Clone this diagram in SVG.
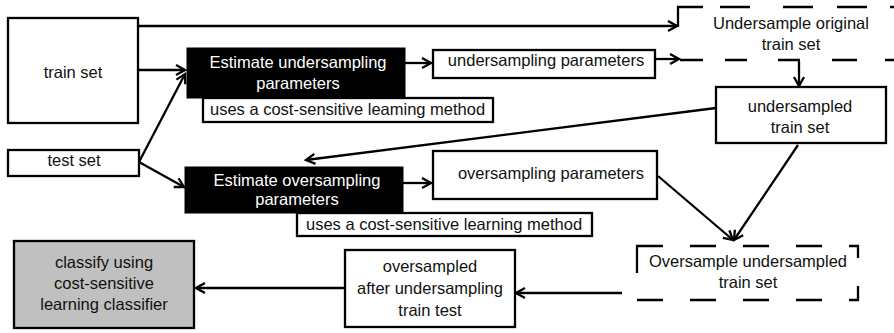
<svg xmlns="http://www.w3.org/2000/svg" width="894" height="333" viewBox="0 0 894 333">
<defs>
<marker id="ah" markerUnits="userSpaceOnUse" markerWidth="14" markerHeight="14" viewBox="-2 -2 14 14" refX="10" refY="5" orient="auto">
<path d="M1,0 L10,5 L1,10" fill="none" stroke="#000" stroke-width="2.3"/>
</marker>
<style>
.box{fill:#fff;stroke:#000;stroke-width:2.3}
.blk{fill:#000;stroke:#000;stroke-width:1}
.gry{fill:#c0c0c0;stroke:#000;stroke-width:2.3}
.dash{fill:none;stroke:#000;stroke-width:2.3}
.t{font-family:"Liberation Sans",Arial,sans-serif;font-size:16.5px;fill:#111;text-anchor:middle}
.tw{font-family:"Liberation Sans",Arial,sans-serif;font-size:16.5px;fill:#fff;text-anchor:middle}
.tl{font-family:"Liberation Sans",Arial,sans-serif;font-size:16.5px;fill:#111}
.c{fill:none;stroke:#000;stroke-width:2.3;marker-end:url(#ah)}
</style>
</defs>
<rect width="894" height="333" fill="#fff"/>

<g id="train-set">
<rect class="box" x="8" y="18" width="130" height="105"/>
<text class="t" x="73" y="78">train set</text>
</g>

<g id="test-set">
<rect class="box" x="8" y="150" width="131" height="26"/>
<text class="t" x="74" y="166">test set</text>
</g>

<g id="estimate-under">
<rect class="blk" x="187" y="48" width="218" height="50"/>
<text class="tw" x="298" y="68">Estimate undersampling</text>
<text class="tw" x="298" y="89">parameters</text>
</g>

<g id="label-under">
<rect class="box" x="203" y="98" width="290" height="24"/>
<text class="tl" x="210" y="115">uses a cost-sensitive leaming method</text>
</g>

<g id="under-params">
<rect class="box" x="433" y="50" width="222" height="28"/>
<text class="t" x="546" y="66">undersampling parameters</text>
</g>

<g id="undersample-original">
<path class="dash" d="M678,27 V7 H703 M720,7 H750 M783,7 H813 M837,7 H867 M890,7 H894 M680,60 H703 M725,60 H747 M778,60 H800 M832,60 H857 M885,60 H894"/>
<text class="t" x="791" y="29">Undersample original</text>
<text class="t" x="791" y="50">train set</text>
</g>

<g id="undersampled">
<rect class="box" x="716" y="87" width="170" height="56"/>
<text class="t" x="800" y="112">undersampled</text>
<text class="t" x="800" y="133">train set</text>
</g>

<g id="estimate-over">
<rect class="blk" x="185" y="167" width="218" height="46"/>
<text class="tw" x="297" y="186">Estimate oversampling</text>
<text class="tw" x="297" y="205">parameters</text>
</g>

<g id="label-over">
<rect class="box" x="297" y="213" width="295" height="23"/>
<text class="tl" x="306" y="230">uses a cost-sensitive learning method</text>
</g>

<g id="over-params">
<rect class="box" x="433" y="151" width="224" height="48"/>
<text class="t" x="551" y="179">oversampling parameters</text>
</g>

<g id="oversample-under">
<path class="dash" d="M637,273 V246 H663 M690,246 H716 M743,246 H769 M796,246 H822 M849,246 H858 V258 M858,286 V300 H849 M822,300 H796 M769,300 H743 M716,300 H690 M663,300 H637"/>
<text class="t" x="748" y="267">Oversample undersampled</text>
<text class="t" x="748" y="288">train set</text>
</g>

<g id="oversampled">
<rect class="box" x="345" y="250" width="170" height="77"/>
<text class="t" x="430" y="272">oversampled</text>
<text class="t" x="430" y="294">after undersampling</text>
<text class="t" x="430" y="316">train test</text>
</g>

<g id="classify">
<rect class="gry" x="14" y="241" width="180" height="87"/>
<text class="t" x="104" y="268">classify using</text>
<text class="t" x="104" y="289">cost-sensitive</text>
<text class="t" x="104" y="310">learning classifier</text>
</g>

<g id="connectors">
<path class="c" d="M139,26 H677"/>
<path class="c" d="M139,70 H185"/>
<path class="c" d="M139,162 L185,74"/>
<path class="c" d="M139,162 L184,187"/>
<path class="c" d="M405,63 H431"/>
<path class="c" d="M403,183 H431"/>
<path class="c" d="M655,59 H679"/>
<path class="c" d="M799,61 V86"/>
<path class="c" d="M716,108 L306,160"/>
<path class="c" d="M798,145 L734,240"/>
<path class="c" d="M658,176 L733,240"/>
<path class="c" d="M622,293 H516"/>
<path class="c" d="M345,288 H196"/>
</g>
</svg>
